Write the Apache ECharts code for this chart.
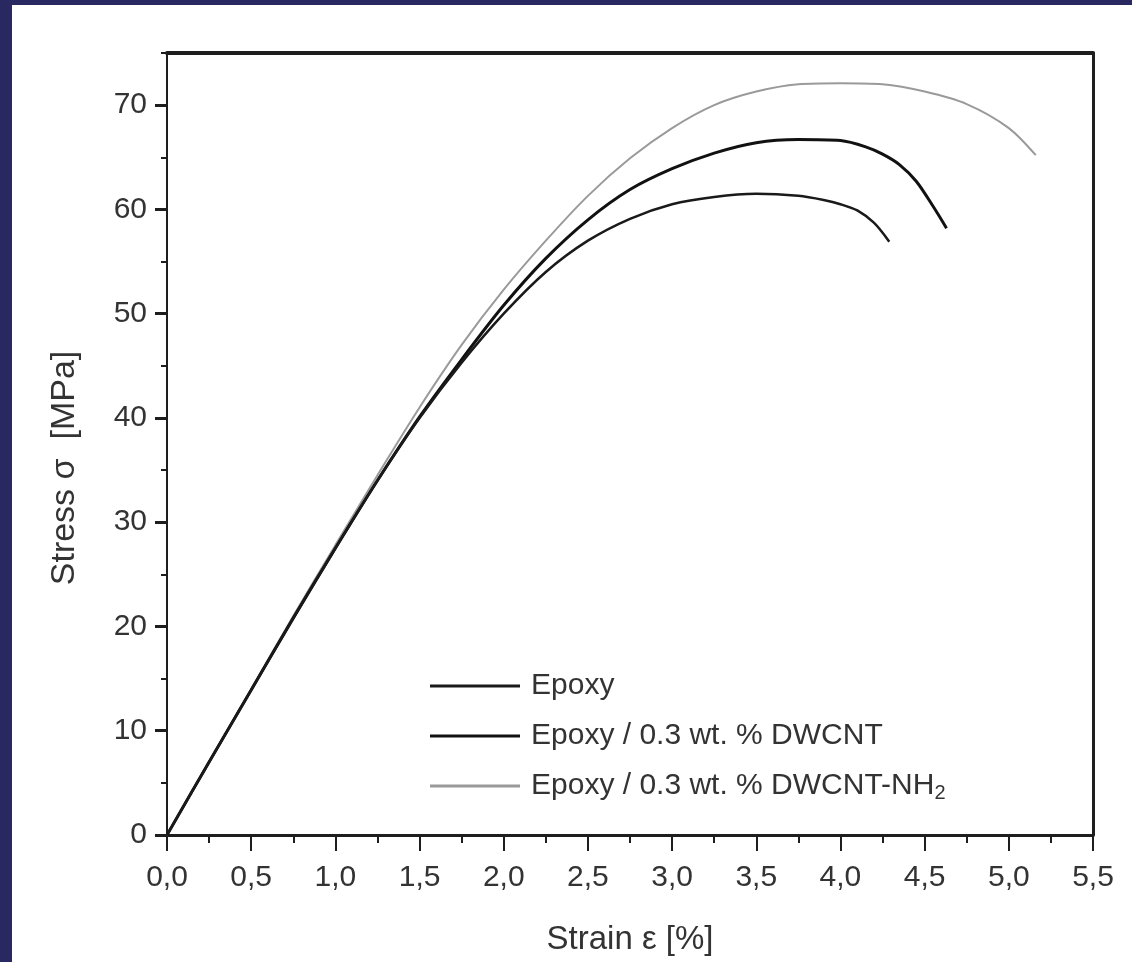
<!DOCTYPE html>
<html>
<head>
<meta charset="utf-8">
<script src="https://cdn.jsdelivr.net/npm/echarts@6/dist/echarts.min.js"></script>
<style>
  html, body { margin: 0; padding: 0; background: #2a2860; width: 1132px; height: 962px; overflow: hidden; }
  #panel { position: absolute; left: 12px; top: 5px; width: 1120px; height: 957px; background: #ffffff; }
  #chart { position: absolute; left: 0; top: 0; width: 1132px; height: 962px; }
</style>
</head>
<body>
<div id="panel"></div>
<div id="chart"></div>
<script>
// ---- data ----
const seriesNames = ['Epoxy', 'Epoxy / 0.3 wt. % DWCNT', 'Epoxy / 0.3 wt. % DWCNT-NH2'];

const epoxyStrain = [0, 0.25, 0.5, 0.75, 1.0, 1.25, 1.5, 1.75, 2.0, 2.25, 2.5, 2.75, 3.0, 3.25, 3.5, 3.75, 3.9, 4.0, 4.1, 4.2, 4.29];
const epoxyStress = [0, 7.0, 13.9, 20.8, 27.5, 34.0, 40.0, 45.3, 50.0, 54.0, 57.0, 59.1, 60.5, 61.2, 61.5, 61.3, 60.9, 60.5, 59.9, 58.7, 56.9];

const dwcntStrain = [0, 0.25, 0.5, 0.75, 1.0, 1.25, 1.5, 1.75, 2.0, 2.25, 2.5, 2.75, 3.0, 3.25, 3.5, 3.75, 4.0, 4.15, 4.25, 4.35, 4.45, 4.55, 4.63];
const dwcntStress = [0, 7.0, 13.9, 20.8, 27.5, 34.0, 40.1, 45.6, 50.8, 55.3, 59.0, 61.9, 63.9, 65.4, 66.4, 66.7, 66.6, 66.0, 65.3, 64.3, 62.7, 60.3, 58.2];

const nh2Strain = [0, 0.25, 0.5, 0.75, 1.0, 1.25, 1.5, 1.75, 2.0, 2.25, 2.5, 2.75, 3.0, 3.25, 3.5, 3.75, 4.0, 4.25, 4.5, 4.75, 5.0, 5.16];
const nh2Stress = [0, 7.0, 14.0, 21.0, 27.8, 34.5, 41.0, 47.0, 52.3, 57.0, 61.3, 64.9, 67.8, 70.0, 71.3, 72.0, 72.1, 72.0, 71.3, 70.1, 67.8, 65.2];

const xTickLabels = ['0,0','0,5','1,0','1,5','2,0','2,5','3,0','3,5','4,0','4,5','5,0','5,5'];
const yTickValues = [0, 10, 20, 30, 40, 50, 60, 70];

const pairs = (xs, ys) => xs.map((x, i) => [x, ys[i]]);

const FONT = '"Liberation Sans", Arial, sans-serif';
const AXIS = '#1e1e1e';
const LABEL = '#333333';

const chart = echarts.init(document.getElementById('chart'), null, { renderer: 'canvas' });

const option = {
  backgroundColor: 'transparent',
  animation: false,
  textStyle: { fontFamily: FONT },
  grid: { left: 167, right: 39, top: 53, bottom: 127, containLabel: false },
  legend: {
    orient: 'vertical',
    left: 425,
    top: 666,
    itemWidth: 90,
    itemHeight: 3,
    itemGap: 20,
    data: seriesNames.map(n => ({ name: n, icon: 'rect' })),
    formatter: function (name) {
      return name.replace('NH2', 'NH{sub|2}');
    },
    textStyle: {
      fontFamily: FONT,
      fontSize: 30,
      color: LABEL,
      lineHeight: 30,
      padding: [0, 0, 0, 6],
      rich: {
        sub: { fontSize: 20, fontFamily: FONT, color: LABEL, padding: [14, 0, 0, 0] }
      }
    }
  },
  xAxis: [
    {
      type: 'value',
      min: 0,
      max: 5.5,
      interval: 0.5,
      position: 'bottom',
      name: 'Strain ε [%]',
      nameLocation: 'middle',
      nameGap: 88,
      nameTextStyle: { fontFamily: FONT, fontSize: 33, color: LABEL },
      axisLine: { show: true, onZero: false, lineStyle: { color: AXIS, width: 3 } },
      axisTick: { show: true, inside: false, length: 16, lineStyle: { color: AXIS, width: 2 } },
      minorTick: { show: true, splitNumber: 2, length: 8, lineStyle: { color: AXIS, width: 2 } },
      axisLabel: {
        margin: 28,
        fontFamily: FONT,
        fontSize: 30,
        color: LABEL,
        formatter: function (v) {
          const idx = Math.round(v / 0.5);
          return xTickLabels[idx] !== undefined ? xTickLabels[idx] : '';
        }
      },
      splitLine: { show: false }
    },
    {
      type: 'value',
      min: 0,
      max: 5.5,
      position: 'top',
      axisLine: { show: true, onZero: false, lineStyle: { color: AXIS, width: 4 } },
      axisTick: { show: false },
      axisLabel: { show: false },
      splitLine: { show: false }
    }
  ],
  yAxis: [
    {
      type: 'value',
      min: 0,
      max: 75,
      interval: 10,
      position: 'left',
      name: 'Stress σ  [MPa]',
      nameLocation: 'middle',
      nameGap: 85,
      nameTextStyle: { fontFamily: FONT, fontSize: 34, color: LABEL, padding: [0, 48, 0, 0] },
      axisLine: { show: true, onZero: false, lineStyle: { color: AXIS, width: 2 } },
      axisTick: { show: true, inside: false, length: 12, customValues: yTickValues, lineStyle: { color: AXIS, width: 3 } },
      axisLabel: {
        margin: 20,
        fontFamily: FONT,
        fontSize: 30,
        color: LABEL,
        customValues: yTickValues,
        formatter: function (v) { return yTickValues.indexOf(v) >= 0 ? String(v) : ''; }
      },
      splitLine: { show: false }
    },
    {
      type: 'value',
      min: 0,
      max: 75,
      interval: 5,
      position: 'left',
      axisLine: { show: false, onZero: false },
      axisTick: { show: true, inside: false, length: 6, lineStyle: { color: AXIS, width: 2 } },
      axisLabel: { show: false },
      splitLine: { show: false }
    },
    {
      type: 'value',
      min: 0,
      max: 75,
      position: 'right',
      axisLine: { show: true, onZero: false, lineStyle: { color: AXIS, width: 3 } },
      axisTick: { show: false },
      axisLabel: { show: false },
      splitLine: { show: false }
    }
  ],
  series: [
    {
      name: seriesNames[0],
      type: 'line',
      xAxisIndex: 0,
      yAxisIndex: 0,
      showSymbol: false,
      symbol: 'none',
      smooth: 0.3,
      data: pairs(epoxyStrain, epoxyStress),
      lineStyle: { color: '#1a1a1a', width: 2.5 },
      itemStyle: { color: '#1a1a1a' },
      z: 3
    },
    {
      name: seriesNames[1],
      type: 'line',
      xAxisIndex: 0,
      yAxisIndex: 0,
      showSymbol: false,
      symbol: 'none',
      smooth: 0.3,
      data: pairs(dwcntStrain, dwcntStress),
      lineStyle: { color: '#111111', width: 3 },
      itemStyle: { color: '#111111' },
      z: 2
    },
    {
      name: seriesNames[2],
      type: 'line',
      xAxisIndex: 0,
      yAxisIndex: 0,
      showSymbol: false,
      symbol: 'none',
      smooth: 0.3,
      data: pairs(nh2Strain, nh2Stress),
      lineStyle: { color: '#9a9a9a', width: 2 },
      itemStyle: { color: '#9a9a9a' },
      z: 1
    }
  ]
};

chart.setOption(option);
</script>
</body>
</html>
